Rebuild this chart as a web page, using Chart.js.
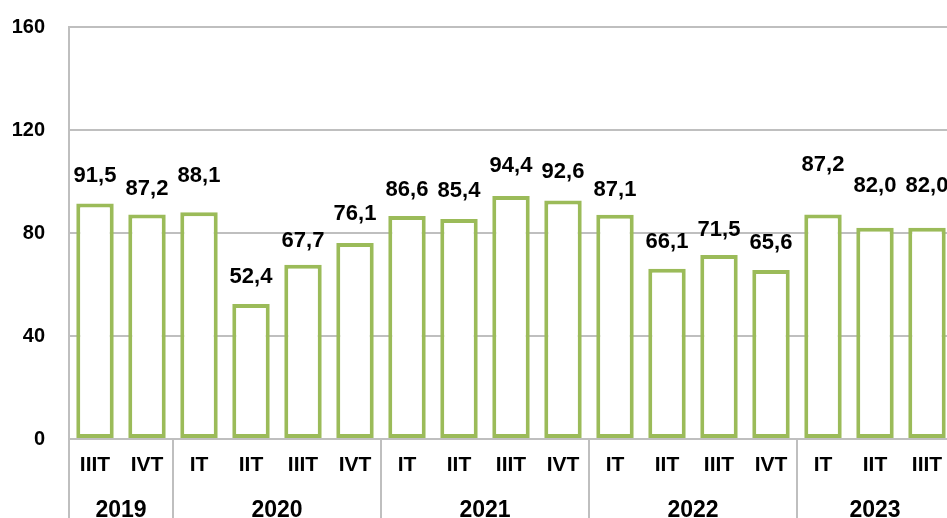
<!DOCTYPE html>
<html>
<head>
<meta charset="utf-8">
<script src="https://cdn.jsdelivr.net/npm/chart.js@4"></script>
<style>
  html, body { margin: 0; padding: 0; background: #fff; overflow: hidden; }
  #wrap { width: 960px; height: 530px; }
</style>
</head>
<body>
<div id="wrap"><canvas id="quarterChart"></canvas></div>
<script>
// ── Data ──────────────────────────────────────────────────────────
const quarters = ['IIIT', 'IVT', 'IT', 'IIT', 'IIIT', 'IVT', 'IT', 'IIT', 'IIIT', 'IVT',
    'IT', 'IIT', 'IIIT', 'IVT', 'IT', 'IIT', 'IIIT'];
const years = ['2019', '2020', '2021', '2022', '2023'];
const quartersPerYear = [2, 4, 4, 4, 3];
const values = [91.5, 87.2, 88.1, 52.4, 67.7, 76.1, 86.6, 85.4, 94.4, 92.6,
    87.1, 66.1, 71.5, 65.6, 87.2, 82.0, 82.0];
const yTicks = [0, 40, 80, 120, 160];

// label lift above each bar top (px), the original has a few moved by hand
const labelLift = [27, 26, 36, 27, 24, 29, 26, 28, 30, 29, 25, 27, 25, 27, 50, 42, 42];

const GREEN = '#9BBB59';
const GRID = '#BFBFBF';
const FONT = '"Liberation Sans", Arial, sans-serif';

// ── Plugins ───────────────────────────────────────────────────────
const valueLabels = {
    id: 'valueLabels',
    afterDatasetsDraw(chart) {
        const { ctx } = chart;
        const meta = chart.getDatasetMeta(0);
        ctx.save();
        ctx.font = `bold 22px ${FONT}`;
        ctx.fillStyle = '#000';
        ctx.textAlign = 'center';
        ctx.textBaseline = 'middle';
        meta.data.forEach((bar, i) => {
            const txt = values[i].toFixed(1).replace('.', ',');
            ctx.fillText(txt, bar.x, bar.y - labelLift[i]);
        });
        ctx.restore();
    }
};

const yearGroups = {
    id: 'yearGroups',
    afterDraw(chart) {
        const { ctx } = chart;
        const x = chart.scales.x;
        const bottom = chart.chartArea.bottom;
        const slot = x.getPixelForValue(1) - x.getPixelForValue(0);
        ctx.save();
        ctx.strokeStyle = GRID;
        ctx.lineWidth = 2;
        ctx.font = `bold 23px ${FONT}`;
        ctx.fillStyle = '#000';
        ctx.textAlign = 'center';
        ctx.textBaseline = 'middle';
        let start = 0;
        years.forEach((yr, g) => {
            const end = start + quartersPerYear[g];
            const x0 = x.getPixelForValue(start) - slot / 2;
            const x1 = x.getPixelForValue(end - 1) + slot / 2;
            ctx.beginPath();
            ctx.moveTo(x0, bottom);
            ctx.lineTo(x0, chart.height);
            ctx.stroke();
            ctx.fillText(yr, (x0 + x1) / 2, 511);
            start = end;
        });
        ctx.restore();
    }
};

// ── Chart ─────────────────────────────────────────────────────────
new Chart(document.getElementById('quarterChart'), {
    type: 'bar',
    data: {
        labels: quarters,
        datasets: [{
            data: values,
            backgroundColor: '#FFFFFF',
            borderColor: GREEN,
            borderWidth: 4,
            borderSkipped: false,
            barPercentage: 0.72,
            categoryPercentage: 1,
        }]
    },
    options: {
        responsive: true,
        maintainAspectRatio: false,
        animation: false,
        layout: { padding: { top: 27, right: 7, left: 0, bottom: 0 } },
        plugins: { legend: { display: false }, tooltip: { enabled: false } },
        scales: {
            x: {
                grid: { display: false, drawTicks: false },
                border: { color: GRID, width: 2 },
                ticks: {
                    color: '#000', autoSkip: false, maxRotation: 0, padding: 14,
                    font: { family: FONT, size: 21, weight: 'bold' }
                },
                afterFit: (s) => { s.height = 91; }
            },
            y: {
                min: 0, max: 160,
                afterBuildTicks: (s) => { s.ticks = yTicks.map(v => ({ value: v })); },
                grid: { color: GRID, lineWidth: 2, drawTicks: false },
                border: { color: GRID, width: 2 },
                ticks: {
                    color: '#000', padding: 24,
                    font: { family: FONT, size: 20, weight: 'bold' }
                },
                afterFit: (s) => {
                    s.width = 69;
                    s.paddingTop = 0;
                    s.paddingBottom = 0;
                }
            }
        }
    },
    plugins: [valueLabels, yearGroups]
});
</script>
</body>
</html>
